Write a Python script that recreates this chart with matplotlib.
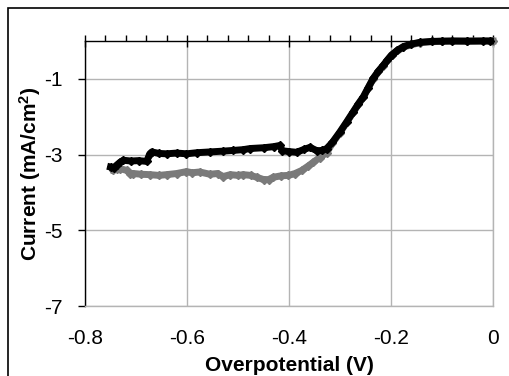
import matplotlib
matplotlib.use('Agg')
import matplotlib.pyplot as plt
from matplotlib.patches import Rectangle
from matplotlib.ticker import MultipleLocator

plt.rcParams['font.family'] = ['Liberation Sans', 'DejaVu Sans']
plt.rcParams['mathtext.fontset'] = 'custom'
plt.rcParams['mathtext.rm'] = 'Liberation Sans:bold'
plt.rcParams['mathtext.default'] = 'rm'

# black curve
v_black = [-0.750, -0.744, -0.738, -0.731, -0.725, -0.710, -0.695, -0.679, -0.673, -0.669,
           -0.655, -0.640, -0.620, -0.601, -0.580, -0.555, -0.530, -0.509, -0.490, -0.476,
           -0.450, -0.430, -0.418, -0.413, -0.400, -0.385, -0.370, -0.359, -0.345, -0.335,
           -0.326, -0.315, -0.300, -0.287, -0.274, -0.264, -0.254, -0.245, -0.235, -0.225,
           -0.215, -0.207, -0.199, -0.188, -0.176, -0.160, -0.143, -0.120, -0.100, -0.080,
           -0.050, -0.020, -0.005]
i_black = [-3.33, -3.35, -3.28, -3.20, -3.15, -3.17, -3.16, -3.18, -2.98, -2.93,
           -2.97, -2.98, -2.96, -2.98, -2.95, -2.93, -2.91, -2.89, -2.87, -2.84,
           -2.82, -2.79, -2.76, -2.90, -2.92, -2.94, -2.86, -2.81, -2.90, -2.89,
           -2.84, -2.68, -2.40, -2.14, -1.87, -1.66, -1.47, -1.24, -0.99, -0.80,
           -0.64, -0.50, -0.37, -0.25, -0.15, -0.08, -0.035, -0.01, -0.005, 0.0,
           -0.005, 0.0, 0.0]

# grey curve
v_grey = [-0.745, -0.738, -0.731, -0.718, -0.712, -0.705, -0.690, -0.673, -0.655, -0.640,
          -0.620, -0.601, -0.590, -0.575, -0.555, -0.540, -0.529, -0.515, -0.500, -0.490,
          -0.475, -0.463, -0.450, -0.440, -0.431, -0.415, -0.401, -0.388, -0.375, -0.362,
          -0.352, -0.340, -0.326, -0.315, -0.300, -0.274, -0.254, -0.235, -0.215, -0.199,
          -0.176, -0.143, -0.100, -0.050, 0.0]
i_grey = [-3.40, -3.37, -3.37, -3.42, -3.50, -3.50, -3.52, -3.53, -3.55, -3.53,
          -3.50, -3.45, -3.48, -3.46, -3.52, -3.50, -3.58, -3.53, -3.55, -3.53,
          -3.55, -3.60, -3.66, -3.66, -3.60, -3.56, -3.55, -3.50, -3.42, -3.30,
          -3.20, -3.08, -2.95, -2.70, -2.42, -1.88, -1.48, -1.00, -0.65, -0.38,
          -0.16, -0.04, -0.005, 0.0, 0.0]

fig = plt.figure(figsize=(5.09, 3.76), dpi=100)
ax = fig.add_axes([85/509, 1-306/376, 408/509, 265/376])

gridc = '#b4b4b4'
ax.plot(v_grey, i_grey, color='#7a7a7a', lw=5, marker='D', ms=4, zorder=3, clip_on=False)
ax.plot(v_black, i_black, color='#000000', lw=5, marker='D', ms=4, zorder=4, clip_on=False)

ax.set_xlim(-0.8, 0)
ax.set_ylim(-7, 0)
ax.set_xticks([-0.8, -0.6, -0.4, -0.2, 0])
ax.set_xticklabels(['-0.8', '-0.6', '-0.4', '-0.2', '0'])
ax.xaxis.set_minor_locator(MultipleLocator(0.04))
ax.set_yticks([-1, -3, -5, -7])
ax.set_yticklabels(['-1', '-3', '-5', '-7'])

ax.grid(True, which='major', color=gridc, lw=1)
ax.set_axisbelow(True)

ax.spines['top'].set_color('black')
ax.spines['left'].set_color('black')
ax.spines['bottom'].set_color(gridc)
ax.spines['right'].set_color(gridc)
for s in ax.spines.values():
    s.set_linewidth(1)

ax.tick_params(axis='x', which='major', bottom=False, top=True, labelbottom=True,
               direction='inout', length=9, width=1, labelsize=15, pad=12)
ax.tick_params(axis='x', which='minor', bottom=False, top=True, direction='out',
               length=4, width=1)
ax.tick_params(axis='y', which='major', left=True, direction='out', length=5,
               width=1, labelsize=15, pad=11)

ax.set_xlabel('Overpotential (V)', fontsize=15, fontweight='bold', labelpad=6)
ax.set_ylabel(r'Current (mA/cm$^2$)', fontsize=15, fontweight='bold', labelpad=1)

fig.patches.append(Rectangle((8/509, -0.1), 1.2, 1.1 - 8/376, transform=fig.transFigure,
                             fill=False, ec='black', lw=1.2))

fig.savefig('out.png', dpi=100)
